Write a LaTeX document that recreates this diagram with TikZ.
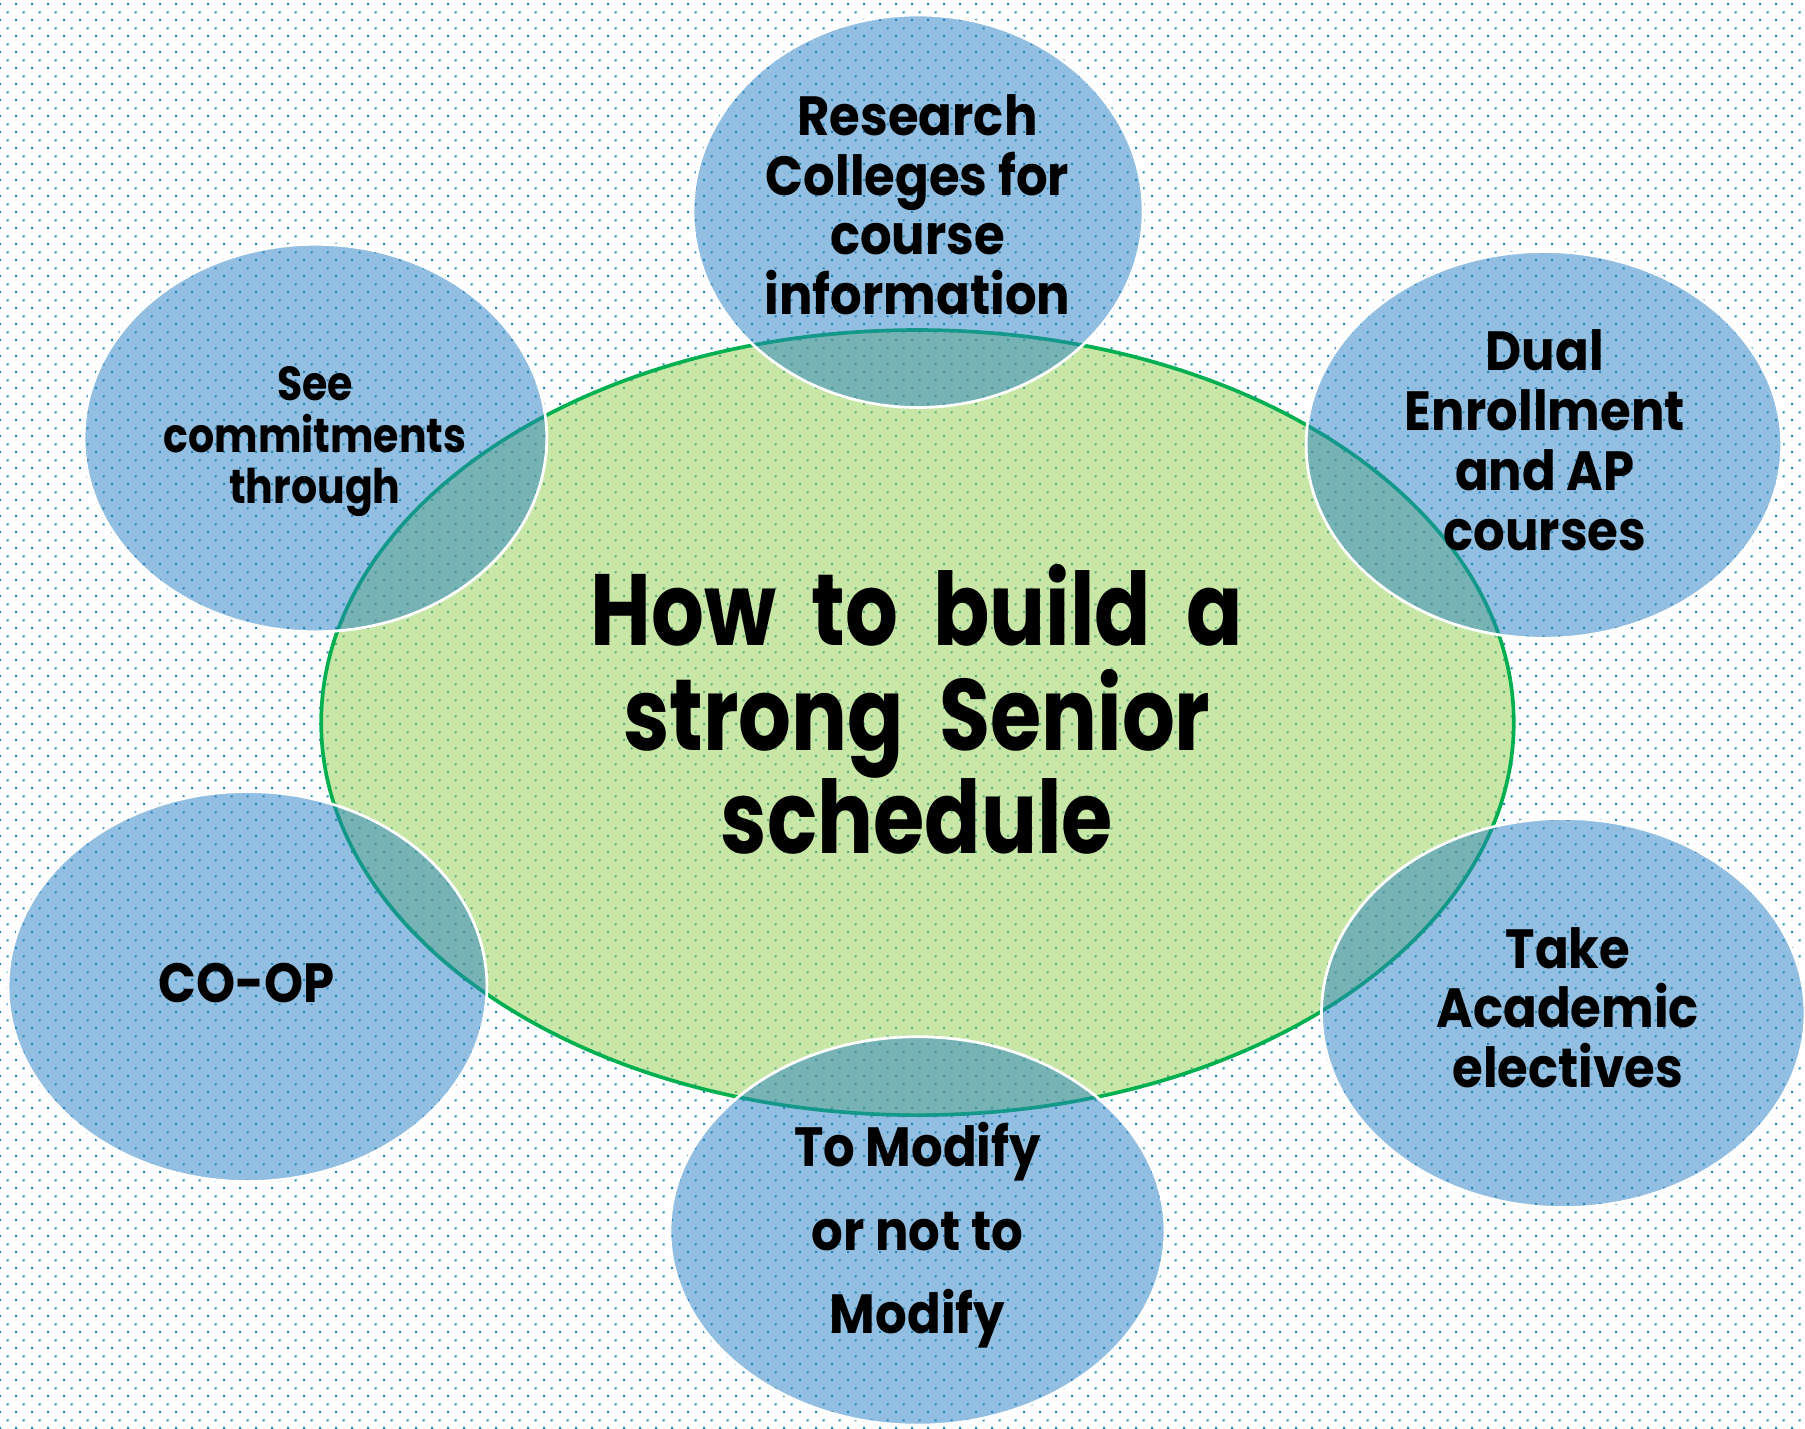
\documentclass[tikz,border=0pt]{standalone}
\usepackage{fontspec}
\newfontfamily\lf{Poppins}[FakeStretch=0.9]
\newfontfamily\lfn{Poppins}[FakeStretch=0.86]
\newfontfamily\lft{Poppins}[FakeStretch=0.82, WordSpace=2.0]
\usetikzlibrary{shapes.geometric,patterns}
\definecolor{dotc}{HTML}{1E86B4}
\definecolor{gfill}{HTML}{92D050}
\definecolor{gline}{HTML}{00B050}
\definecolor{bfill}{HTML}{2781C4}
\pgfdeclarepatternformonly{sdots}{\pgfqpoint{0pt}{0pt}}{\pgfqpoint{6.95pt}{6.95pt}}{\pgfqpoint{6.95pt}{6.95pt}}{%
  \pgfpathrectangle{\pgfqpoint{0pt}{0pt}}{\pgfqpoint{0.95pt}{0.95pt}}%
  \pgfpathrectangle{\pgfqpoint{3.475pt}{3.475pt}}{\pgfqpoint{0.95pt}{0.95pt}}%
  \pgfusepath{fill}}
\tikzset{
  hub/.style={ellipse, inner sep=0pt, outer sep=0pt, fill=gfill, fill opacity=0.5, draw=gline, draw opacity=1, line width=1.6pt},
  blob/.style={ellipse, inner sep=0pt, outer sep=0pt, fill=bfill, fill opacity=0.5, draw=white, draw opacity=1, line width=1.2pt},
  lbl/.style={inner sep=0pt, anchor=base, text=black, font=\lf\bfseries\fontsize{24pt}{26pt}\selectfont},
  lblsmall/.style={lbl, font=\lfn\bfseries\fontsize{20.75pt}{22.5pt}\selectfont},
  ttl/.style={lbl, font=\lft\bfseries\fontsize{44pt}{45pt}\selectfont}
}
\begin{document}
\begin{tikzpicture}[x=0.5pt, y=-0.5pt]
  \useasboundingbox (0,0) rectangle (1568,1240.6);
  \fill[white] (0,0) rectangle (1568,1240.6);
  \fill[pattern=sdots, pattern color=dotc] (0,0) rectangle (1568,1240.6);

  % central ellipse
  \node[hub, minimum width=518pt, minimum height=341pt] (hub) at (797,627.7) {};

  % satellites
  \node[blob, minimum width=195.5pt, minimum height=170.5pt] (research) at (797.5,183.5) {};
  \node[blob, minimum width=201pt, minimum height=168.3pt] (see) at (274,380.5) {};
  \node[blob, minimum width=206.6pt, minimum height=168pt] (dual) at (1341.2,386.5) {};
  \node[blob, minimum width=208pt, minimum height=169.4pt] (coop) at (215,857) {};
  \node[blob, minimum width=210pt, minimum height=169pt] (take) at (1358,880) {};
  \node[blob, minimum width=215pt, minimum height=168.7pt] (modify) at (797,1069.3) {};

  % texts
  \node[lbl] (r1) at (797,117.3) {Research};
  \node[lbl] (r2) at (797,169.4) {Colleges for};
  \node[lbl] (r3) at (797,221.5) {course};
  \node[lbl] (r4) at (797,273.6) {information};

  \node[lblsmall] (s1) at (273.6,347.5) {See};
  \node[lblsmall] (s2) at (273.6,393.3) {commitments};
  \node[lblsmall] (s3) at (273.6,437) {through};

  \node[lbl] (d1) at (1342,322) {Dual};
  \node[lbl] (d2) at (1342,374) {Enrollment};
  \node[lbl] (d3) at (1342,425.7) {and AP};
  \node[lbl] (d4) at (1342,477.8) {courses};

  \node[lbl] (c1) at (214.3,871) {CO-OP};

  \node[lbl] (k1) at (1362,841.2) {Take};
  \node[lbl] (k2) at (1362,893) {Academic};
  \node[lbl] (k3) at (1362,945) {electives};

  \node[lbl] (m1) at (797,1013.5) {To Modify};
  \node[lbl] (m2) at (797,1086) {or not to};
  \node[lbl] (m3) at (797,1158) {Modify};

  \node[ttl] (h1) at (796.5,561) {How to build a};
  \node[ttl] (h2) at (796.5,651.6) {strong Senior};
  \node[ttl] (h3) at (796.5,741) {schedule};
\end{tikzpicture}
\end{document}
